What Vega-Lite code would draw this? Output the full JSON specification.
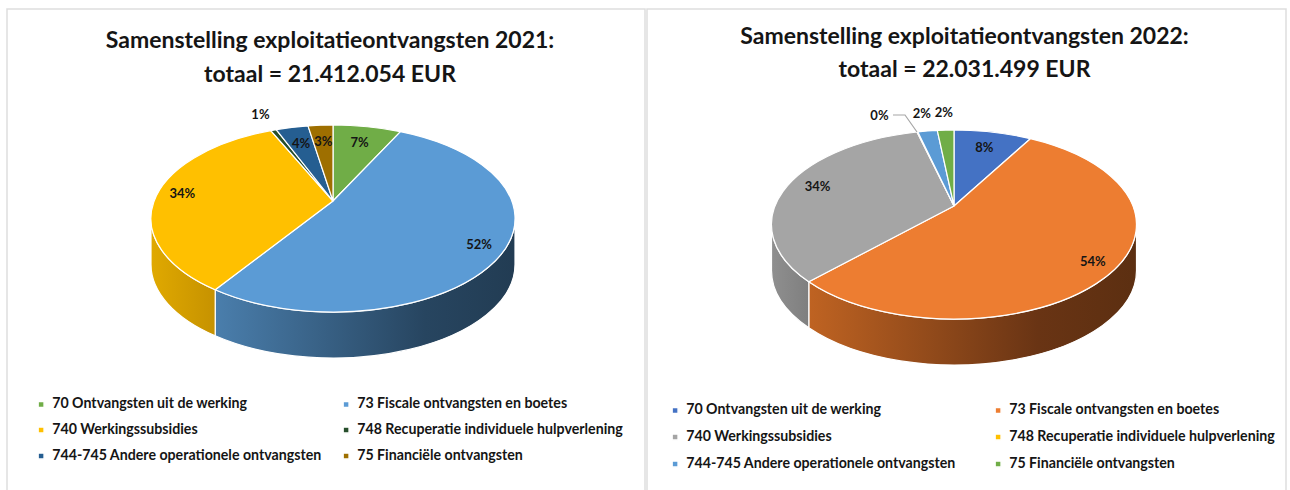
{"$schema":"https://vega.github.io/schema/vega-lite/v6.json","padding":{"left":6,"top":8,"right":0,"bottom":0},"autosize":{"type":"pad"},"background":"white","spacing":0,"config":{"view":{"stroke":"#dedede","strokeWidth":1.5},"concat":{"spacing":0},"legend":{"labelFont":"Lato","labelFontWeight":"bold","labelFontSize":14.2,"labelColor":"#151515","labelLimit":400,"symbolType":"square","symbolSize":36,"padding":0,"title":null}},"resolve":{"scale":{"color":"independent"}},"hconcat":[
{"width":638,"height":482,"title":{"text":["Samenstelling exploitatieontvangsten 2021:","totaal = 21.412.054  EUR"],"font":"Lato","fontSize":23,"fontWeight":"bold","color":"#151515","lineHeight":34,"anchor":"middle","frame":"group","offset":-78,"dx":4},
"data":{"values":[{"idx":1,"slice":"70 Ontvangsten uit de werking","value":7.4},{"idx":2,"slice":"73 Fiscale ontvangsten en boetes","value":52.1},{"idx":3,"slice":"740 Werkingssubsidies","value":33.7},{"idx":4,"slice":"748 Recuperatie individuele hulpverlening","value":0.6},{"idx":5,"slice":"744-745 Andere operationele ontvangsten","value":3.5},{"idx":6,"slice":"75 Financiële ontvangsten","value":2.7}]},
"transform":[{"stack":"value","groupby":[],"sort":[{"field":"idx","order":"ascending"}],"as":["v0","v1"]},
{"calculate":"2*PI*datum.v0/100","as":"th0"},{"calculate":"2*PI*datum.v1/100","as":"th1"},
{"calculate":"datum.th0-0.19*sin(datum.th0)","as":"t0"},{"calculate":"datum.th1-0.19*sin(datum.th1)","as":"t1"},
{"calculate":"round(1820*sin(datum.t0))/10","as":"x0"},{"calculate":"round(10*(17.5-93.5*cos(datum.t0)))/10","as":"y0"},
{"calculate":"round(1820*sin(datum.t1))/10","as":"x1"},{"calculate":"round(10*(17.5-93.5*cos(datum.t1)))/10","as":"y1"},
{"calculate":"'M0,0L'+datum.x0+','+datum.y0+'A182,93.5 0 '+(datum.t1-datum.t0>PI?1:0)+' 1 '+datum.x1+','+datum.y1+'Z'","as":"wedge"},
{"calculate":"max(datum.t0,PI/2)","as":"s"},{"calculate":"min(datum.t1,3*PI/2)","as":"e"},
{"calculate":"round(1820*sin(datum.s))/10","as":"xs"},{"calculate":"round(10*(17.5-93.5*cos(datum.s)))/10","as":"ys"},
{"calculate":"round(1820*sin(datum.e))/10","as":"xe"},{"calculate":"round(10*(17.5-93.5*cos(datum.e)))/10","as":"ye"},
{"calculate":"'M'+datum.xs+','+datum.ys+'A182,93.5 0 0 1 '+datum.xe+','+datum.ye+'L'+datum.xe+','+(datum.ye+46)+'A182,93.5 0 0 0 '+datum.xs+','+(datum.ys+46)+'Z'","as":"wall"},
{"calculate":"(datum.th0+datum.th1)/2","as":"tm"},{"calculate":"datum.tm-0.19*sin(datum.tm)","as":"mt"},
{"calculate":"datum.value<1?1.22:(datum.value>20?0.86:0.78)","as":"f"},
{"calculate":"datum.f*182*sin(datum.mt)","as":"px"},{"calculate":"datum.f*(17.5-93.5*cos(datum.mt))","as":"py"},
{"calculate":"format(datum.value,'.0f')+'%'","as":"pct"}],
"layer":[
{"transform":[{"filter":"datum.idx==2"}],"mark":{"type":"point","size":4,"filled":true,"opacity":1,"stroke":"white","strokeWidth":1.2,"fill":{"gradient":"linear","x1":0,"x2":1,"y1":0,"y2":0,"stops":[{"offset":0,"color":"#4a7eac"},{"offset":0.7,"color":"#274560"},{"offset":1,"color":"#223c53"}]}},"encoding":{"x":{"datum":0,"type":"quantitative","scale":{"domain":[-326,312]},"axis":null},"y":{"datum":0,"type":"quantitative","scale":{"domain":[-192,290],"reverse":true},"axis":null},"shape":{"field":"wall","type":"nominal","scale":null,"legend":null}}},
{"transform":[{"filter":"datum.idx==3"}],"mark":{"type":"point","size":4,"filled":true,"opacity":1,"stroke":"white","strokeWidth":1.2,"fill":{"gradient":"linear","x1":0,"x2":1,"y1":0,"y2":0,"stops":[{"offset":0,"color":"#e0a900"},{"offset":1,"color":"#c69200"}]}},"encoding":{"x":{"datum":0,"type":"quantitative","scale":{"domain":[-326,312]},"axis":null},"y":{"datum":0,"type":"quantitative","scale":{"domain":[-192,290],"reverse":true},"axis":null},"shape":{"field":"wall","type":"nominal","scale":null,"legend":null}}},
{"mark":{"type":"point","size":4,"filled":true,"opacity":1,"stroke":"white","strokeWidth":1.2},"encoding":{"x":{"datum":0,"type":"quantitative","scale":{"domain":[-326,312]},"axis":null},"y":{"datum":0,"type":"quantitative","scale":{"domain":[-192,290],"reverse":true},"axis":null},"shape":{"field":"wedge","type":"nominal","scale":null,"legend":null},"color":{"field":"slice","type":"nominal","scale":{"domain":["70 Ontvangsten uit de werking","73 Fiscale ontvangsten en boetes","740 Werkingssubsidies","748 Recuperatie individuele hulpverlening","744-745 Andere operationele ontvangsten","75 Financiële ontvangsten"],"range":["#70AD47","#5B9BD5","#FFC000","#264E2B","#255E91","#9E6F00"]},"legend":{"orient":"none","legendX":27,"legendY":388,"direction":"horizontal","columns":2,"columnPadding":17,"rowPadding":11,"gridAlign":"each","symbolType":"square"}}}},
{"mark":{"type":"text","font":"Lato","fontWeight":"bold","fontSize":13,"color":"#151515","align":"center","baseline":"middle"},"encoding":{"x":{"field":"px","type":"quantitative","scale":{"domain":[-326,312]},"axis":null},"y":{"field":"py","type":"quantitative","scale":{"domain":[-192,290],"reverse":true},"axis":null},"text":{"field":"pct","type":"nominal"}}}
]},
{"width":639,"height":482,"title":{"text":["Samenstelling exploitatieontvangsten 2022:","totaal = 22.031.499 EUR"],"font":"Lato","fontSize":23,"fontWeight":"bold","color":"#151515","lineHeight":33,"anchor":"middle","frame":"group","offset":-73,"dx":-2},
"data":{"values":[{"idx":1,"slice":"70 Ontvangsten uit de werking","value":8.4},{"idx":2,"slice":"73 Fiscale ontvangsten en boetes","value":54.1},{"idx":3,"slice":"740 Werkingssubsidies","value":33.5},{"idx":4,"slice":"748 Recuperatie individuele hulpverlening","value":0.1},{"idx":5,"slice":"744-745 Andere operationele ontvangsten","value":2.1},{"idx":6,"slice":"75 Financiële ontvangsten","value":1.8}]},
"transform":[{"stack":"value","groupby":[],"sort":[{"field":"idx","order":"ascending"}],"as":["v0","v1"]},
{"calculate":"2*PI*datum.v0/100","as":"th0"},{"calculate":"2*PI*datum.v1/100","as":"th1"},
{"calculate":"datum.th0-0.19*sin(datum.th0)","as":"t0"},{"calculate":"datum.th1-0.19*sin(datum.th1)","as":"t1"},
{"calculate":"round(1825*sin(datum.t0))/10","as":"x0"},{"calculate":"round(10*(18.5-94.5*cos(datum.t0)))/10","as":"y0"},
{"calculate":"round(1825*sin(datum.t1))/10","as":"x1"},{"calculate":"round(10*(18.5-94.5*cos(datum.t1)))/10","as":"y1"},
{"calculate":"'M0,0L'+datum.x0+','+datum.y0+'A182.5,94.5 0 '+(datum.t1-datum.t0>PI?1:0)+' 1 '+datum.x1+','+datum.y1+'Z'","as":"wedge"},
{"calculate":"max(datum.t0,PI/2)","as":"s"},{"calculate":"min(datum.t1,3*PI/2)","as":"e"},
{"calculate":"round(1825*sin(datum.s))/10","as":"xs"},{"calculate":"round(10*(18.5-94.5*cos(datum.s)))/10","as":"ys"},
{"calculate":"round(1825*sin(datum.e))/10","as":"xe"},{"calculate":"round(10*(18.5-94.5*cos(datum.e)))/10","as":"ye"},
{"calculate":"'M'+datum.xs+','+datum.ys+'A182.5,94.5 0 0 1 '+datum.xe+','+datum.ye+'L'+datum.xe+','+(datum.ye+46)+'A182.5,94.5 0 0 0 '+datum.xs+','+(datum.ys+46)+'Z'","as":"wall"},
{"calculate":"'M'+datum.x0+','+datum.y0+'L'+(datum.x0-12)+','+(datum.y0-17)+'L'+(datum.x0-24)+','+(datum.y0-17)","as":"leader"},
{"calculate":"(datum.th0+datum.th1)/2","as":"tm"},{"calculate":"datum.tm-0.19*sin(datum.tm)","as":"mt"},
{"calculate":"datum.value<2.5?1.22:(datum.idx==3?0.83:(datum.value>20?0.87:0.78))","as":"f"},
{"calculate":"datum.f*182.5*sin(datum.mt)","as":"px"},{"calculate":"datum.f*(18.5-94.5*cos(datum.mt))","as":"py"},
{"calculate":"format(datum.value,'.0f')+'%'","as":"pct"}],
"layer":[
{"transform":[{"filter":"datum.idx==2"}],"mark":{"type":"point","size":4,"filled":true,"opacity":1,"stroke":"white","strokeWidth":1.2,"fill":{"gradient":"linear","x1":0,"x2":1,"y1":0,"y2":0,"stops":[{"offset":0,"color":"#bf6322"},{"offset":0.7,"color":"#693414"},{"offset":1,"color":"#5c2f11"}]}},"encoding":{"x":{"datum":0,"type":"quantitative","scale":{"domain":[-307,332]},"axis":null},"y":{"datum":0,"type":"quantitative","scale":{"domain":[-197,285],"reverse":true},"axis":null},"shape":{"field":"wall","type":"nominal","scale":null,"legend":null}}},
{"transform":[{"filter":"datum.idx==3"}],"mark":{"type":"point","size":4,"filled":true,"opacity":1,"stroke":"white","strokeWidth":1.2,"fill":{"gradient":"linear","x1":0,"x2":1,"y1":0,"y2":0,"stops":[{"offset":0,"color":"#8f8f8f"},{"offset":1,"color":"#7f7f7f"}]}},"encoding":{"x":{"datum":0,"type":"quantitative","scale":{"domain":[-307,332]},"axis":null},"y":{"datum":0,"type":"quantitative","scale":{"domain":[-197,285],"reverse":true},"axis":null},"shape":{"field":"wall","type":"nominal","scale":null,"legend":null}}},
{"mark":{"type":"point","size":4,"filled":true,"opacity":1,"stroke":"white","strokeWidth":1.2},"encoding":{"x":{"datum":0,"type":"quantitative","scale":{"domain":[-307,332]},"axis":null},"y":{"datum":0,"type":"quantitative","scale":{"domain":[-197,285],"reverse":true},"axis":null},"shape":{"field":"wedge","type":"nominal","scale":null,"legend":null},"color":{"field":"slice","type":"nominal","scale":{"domain":["70 Ontvangsten uit de werking","73 Fiscale ontvangsten en boetes","740 Werkingssubsidies","748 Recuperatie individuele hulpverlening","744-745 Andere operationele ontvangsten","75 Financiële ontvangsten"],"range":["#4472C4","#ED7D31","#A5A5A5","#FFC000","#5B9BD5","#70AD47"]},"legend":{"orient":"none","legendX":21,"legendY":394,"direction":"horizontal","columns":2,"columnPadding":35,"rowPadding":12,"gridAlign":"each","symbolType":"square"}}}},
{"transform":[{"filter":"datum.idx==4"}],"mark":{"type":"point","size":4,"filled":false,"opacity":1,"stroke":"#a6a6a6","strokeWidth":1.2},"encoding":{"x":{"datum":0,"type":"quantitative","scale":{"domain":[-307,332]},"axis":null},"y":{"datum":0,"type":"quantitative","scale":{"domain":[-197,285],"reverse":true},"axis":null},"shape":{"field":"leader","type":"nominal","scale":null,"legend":null}}},
{"transform":[{"filter":"datum.idx!=4"}],"mark":{"type":"text","font":"Lato","fontWeight":"bold","fontSize":13,"color":"#151515","align":"center","baseline":"middle"},"encoding":{"x":{"field":"px","type":"quantitative","scale":{"domain":[-307,332]},"axis":null},"y":{"field":"py","type":"quantitative","scale":{"domain":[-197,285],"reverse":true},"axis":null},"text":{"field":"pct","type":"nominal"}}},
{"transform":[{"filter":"datum.idx==4"}],"mark":{"type":"text","font":"Lato","fontWeight":"bold","fontSize":13,"color":"#151515","align":"center","baseline":"middle","dx":-30},"encoding":{"x":{"field":"px","type":"quantitative","scale":{"domain":[-307,332]},"axis":null},"y":{"field":"py","type":"quantitative","scale":{"domain":[-197,285],"reverse":true},"axis":null},"text":{"field":"pct","type":"nominal"}}}
]}
]}
